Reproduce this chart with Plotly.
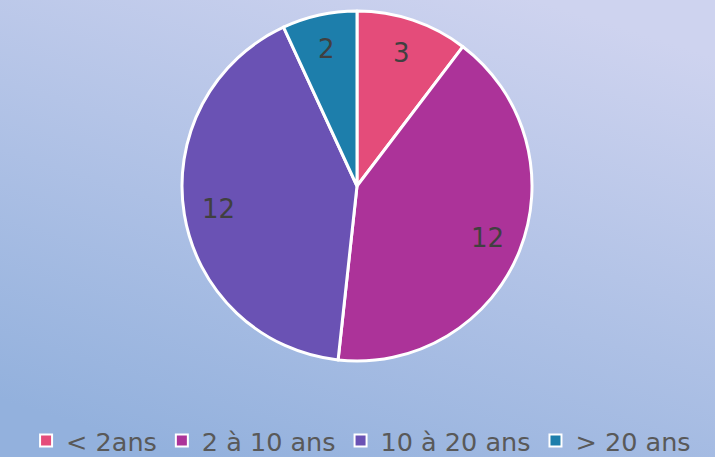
import base64
import math
import plotly.graph_objects as go

labels = ["< 2ans", "2 à 10 ans", "10 à 20 ans", "> 20 ans"]
values = [3, 12, 12, 2]
colors = ["#E44C7A", "#AC3399", "#6A52B4", "#1D7EAB"]

W, H = 715, 457

svg = f'''<svg xmlns="http://www.w3.org/2000/svg" width="{W}" height="{H}" viewBox="0 0 {W} {H}" preserveAspectRatio="none">
<defs><linearGradient id="g" x1="0.75" y1="0" x2="0.25" y2="1">
<stop offset="0" stop-color="#CED3EF"/><stop offset="1" stop-color="#93B1DD"/>
</linearGradient></defs>
<rect width="{W}" height="{H}" fill="url(#g)"/></svg>'''
src = "data:image/svg+xml;base64," + base64.b64encode(svg.encode()).decode()

cx, cy, r = 357, 186, 175
fig = go.Figure(go.Pie(
    labels=labels, values=values, sort=False, direction="clockwise", rotation=0,
    marker=dict(colors=colors, line=dict(color="white", width=3)),
    textinfo="none",
    hoverinfo="label+value",
    domain=dict(x=[(cx - r) / W, (cx + r) / W], y=[(H - cy - r) / H, (H - cy + r) / H]),
))

# value labels at 0.8 radius on each slice's mid-angle
total = sum(values)
cum = 0
annotations = []
for v in values:
    mid = (cum + v / 2) / total * 2 * math.pi
    cum += v
    px = cx + 0.8 * r * math.sin(mid)
    py = cy - 0.8 * r * math.cos(mid)
    annotations.append(dict(x=px / W, y=1 - py / H, xref="paper", yref="paper",
                            xanchor="center", yanchor="middle",
                            text=str(v), showarrow=False,
                            font=dict(family="DejaVu Sans", size=26, color="#404040")))

fig.update_layout(
    width=W, height=H, margin=dict(l=0, r=0, t=0, b=0, autoexpand=False),
    paper_bgcolor="#B0BFE6",
    images=[dict(source=src, xref="paper", yref="paper", x=0, y=1, sizex=1, sizey=1,
                 xanchor="left", yanchor="top", sizing="stretch", layer="below")],
    legend=dict(orientation="h", x=0.505, xanchor="center", y=0.035, yanchor="middle",
                font=dict(family="DejaVu Sans", size=25.5, color="#595959"),
                bgcolor="rgba(0,0,0,0)", itemsizing="constant"),
    annotations=annotations,
)
fig.write_html("out.html", config={"displayModeBar": False},
               post_script="document.body.style.margin='0';")
